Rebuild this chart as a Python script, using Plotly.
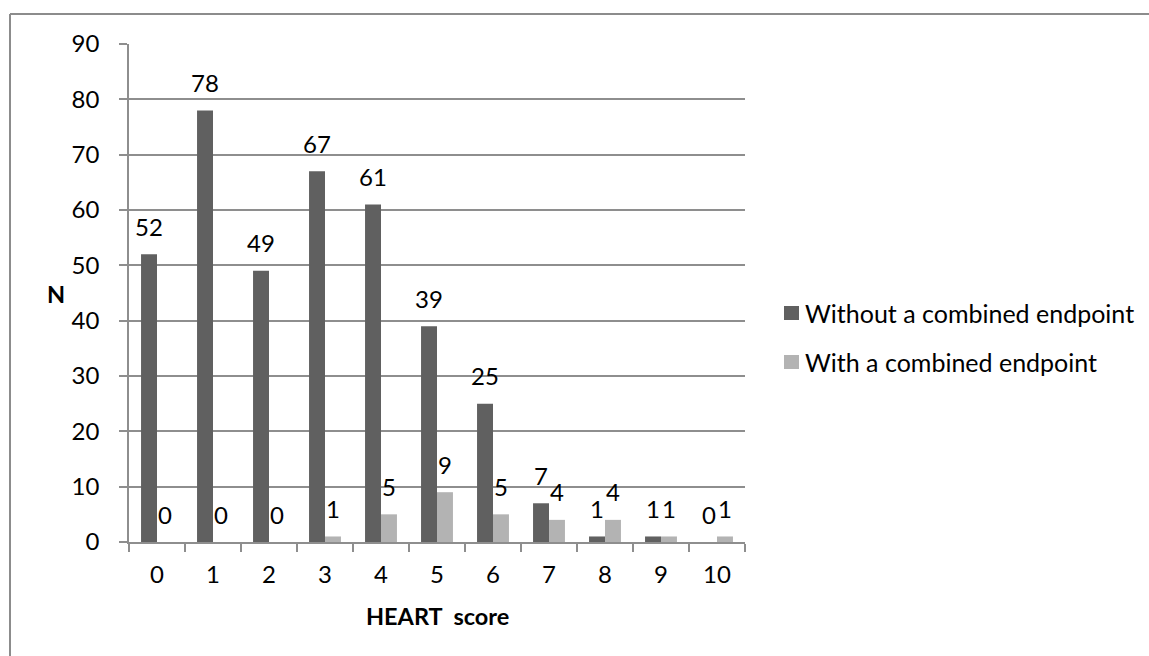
import plotly.graph_objects as go

# HEART score categories and patient counts per group
scores = ["0", "1", "2", "3", "4", "5", "6", "7", "8", "9", "10"]
without_endpoint = [52, 78, 49, 67, 61, 39, 25, 7, 1, 1, 0]
with_endpoint = [0, 0, 0, 1, 5, 9, 5, 4, 4, 1, 1]
series_names = ["Without a combined endpoint", "With a combined endpoint"]

DARK = "#606060"
LIGHT = "#b3b3b3"
GRID = "#8e8e8e"
FONT = "Lato"
FS = 24

W, H = 1149, 656
ML, MR, MT, MB = 129, 404, 44, 114
PW, PH = W - ML - MR, H - MT - MB


def px_x(px):
    return (px - ML) / PW


def px_y(py):
    return (H - MB - py) / PH


fig = go.Figure()
fig.add_trace(go.Bar(x=scores, y=without_endpoint, name=series_names[0],
                     marker=dict(color=DARK, line=dict(width=0))))
fig.add_trace(go.Bar(x=scores, y=with_endpoint, name=series_names[1],
                     marker=dict(color=LIGHT, line=dict(width=0))))

annotations = []
# value labels above each bar
for vals, shift in ((without_endpoint, -8), (with_endpoint, 8)):
    for s, v in zip(scores, vals):
        annotations.append(dict(x=s, y=v, xref="x", yref="y", text=str(v),
                                showarrow=False, xshift=shift, yshift=28,
                                xanchor="center", yanchor="middle",
                                font=dict(family=FONT, size=FS, color="#000")))

# axis titles
annotations.append(dict(x=px_x(56), y=px_y(294), xref="paper", yref="paper",
                        text="<b>N</b>", showarrow=False,
                        xanchor="center", yanchor="middle",
                        font=dict(family=FONT, size=23.5, color="#000")))
annotations.append(dict(x=px_x(437), y=px_y(616), xref="paper", yref="paper",
                        text="<b>HEART&nbsp; score</b>", showarrow=False,
                        xanchor="center", yanchor="middle",
                        font=dict(family=FONT, size=23.5, color="#000")))

shapes = []
# legend entries
for i, (name, col) in enumerate(zip(series_names, (DARK, LIGHT))):
    cy = 313 + i * 49
    shapes.append(dict(type="rect", xref="paper", yref="paper",
                       x0=px_x(784), x1=px_x(799), y0=px_y(cy - 7), y1=px_y(cy + 7),
                       fillcolor=col, line=dict(width=0)))
    annotations.append(dict(x=px_x(803), y=px_y(cy), xref="paper", yref="paper",
                            text=name, showarrow=False, xanchor="left",
                            yanchor="middle",
                            font=dict(family=FONT, size=25, color="#000")))

# chart frame
shapes.append(dict(type="line", xref="paper", yref="paper",
                   x0=px_x(10), x1=px_x(W + 5), y0=px_y(14), y1=px_y(14),
                   line=dict(color="#8c8c8c", width=2)))
shapes.append(dict(type="line", xref="paper", yref="paper",
                   x0=px_x(10), x1=px_x(10), y0=px_y(14), y1=px_y(H + 5),
                   line=dict(color="#8c8c8c", width=2)))

fig.update_layout(
    width=W, height=H,
    margin=dict(l=ML, r=MR, t=MT, b=MB),
    paper_bgcolor="white", plot_bgcolor="white",
    barmode="group", bargap=0.43, bargroupgap=0,
    showlegend=False,
    font=dict(family=FONT, size=FS, color="#000"),
    annotations=annotations, shapes=shapes,
)
fig.update_xaxes(type="category", showline=True, linecolor=GRID, linewidth=1.5,
                 ticks="outside", tickson="boundaries", ticklen=8,
                 tickcolor=GRID, tickwidth=1.5, showgrid=False,
                 ticklabelstandoff=10,
                 tickfont=dict(family=FONT, size=FS, color="#000"))
fig.update_yaxes(range=[0, 90], dtick=10, showline=True, linecolor=GRID,
                 linewidth=1.5, ticks="outside", ticklen=8, tickcolor=GRID,
                 tickwidth=1.5, showgrid=True, gridcolor=GRID, gridwidth=1.5,
                 zeroline=False, ticklabelstandoff=15,
                 tickfont=dict(family=FONT, size=FS, color="#000"))

fig.write_html("out.html")
